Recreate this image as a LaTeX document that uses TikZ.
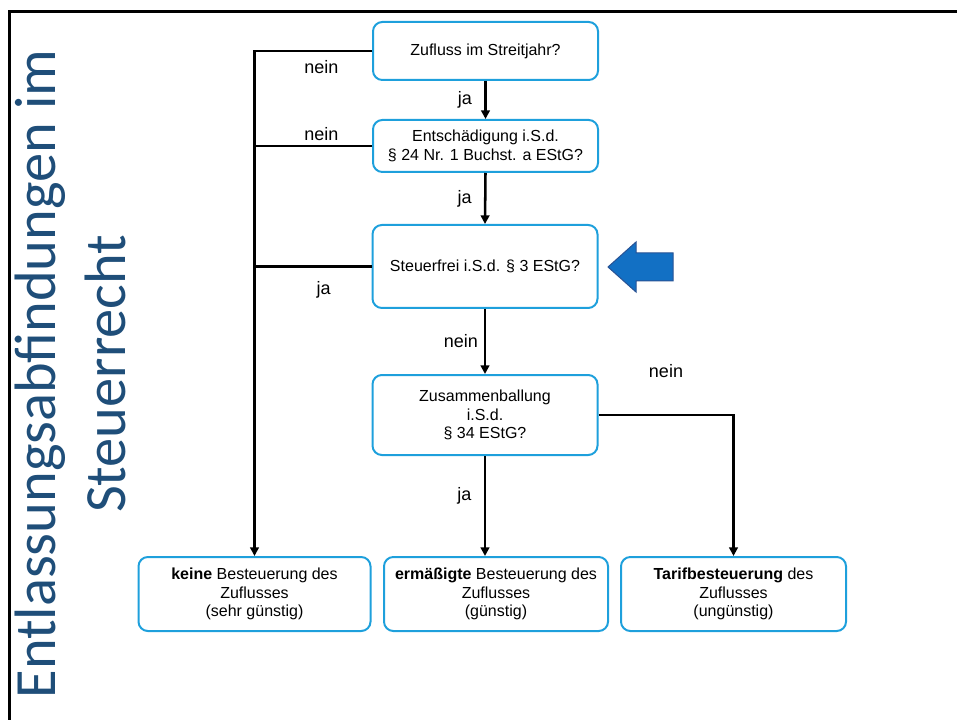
\documentclass[tikz,border=0pt]{standalone}
\usepackage{fontspec}
\setmainfont{Liberation Sans}
\newfontfamily\titlefont{Carlito}
\usetikzlibrary{arrows.meta,positioning}
\definecolor{boxblue}{RGB}{30,160,220}
\definecolor{titleblue}{RGB}{31,78,121}
\definecolor{arrowfill}{RGB}{18,112,196}
\definecolor{arrowline}{RGB}{40,82,148}
\tikzset{
  frage/.style={draw=boxblue, line width=1.5pt, rounded corners=7pt, align=center,
    font=\fontsize{12}{14}\selectfont, minimum width=168.75pt, inner sep=0pt},
  linie/.style={line width=1.9pt},
  pfeil/.style={linie, -{Triangle[width=6.5pt,length=6.5pt]}},
  lbl/.style={font=\fontsize{13.5}{16}\selectfont}
}
\begin{document}
\begin{tikzpicture}[x=0.75pt, y=-0.75pt]
\useasboundingbox (0,0) rectangle (957,720);
\draw[line width=2pt] (9.5,720) -- (9.5,11.5) -- (957,11.5);

\node[font=\titlefont\fontsize{43.8}{53}\selectfont, text=titleblue, rotate=90, align=center] (titel) at (70.5,374) {Entlassungsabfindungen im\\Steuerrecht};

\node[frage, minimum height=43.5pt] (q1) at (485.5,51) {Zufluss im Streitjahr?};
\node[frage, minimum height=39pt] (q2) at (485.5,146) {Entschädigung i.S.d.\\§ 24 Nr. 1 Buchst. a EStG?};
\node[frage, minimum height=62.25pt] (q3) at (485,266.5) {Steuerfrei i.S.d. § 3 EStG?};
\node[frage, minimum height=60pt] (q4) at (485,415) {Zusammenballung\\i.S.d.\\§ 34 EStG?};

\node[frage, minimum height=55.5pt, minimum width=174pt] (rA) at (254.5,594) {\textbf{keine} Besteuerung des\\Zuflusses\\(sehr günstig)};
\node[frage, minimum height=55.5pt, minimum width=168pt] (rB) at (496,594) {\textbf{ermäßigte} Besteuerung des\\Zuflusses\\(günstig)};
\node[frage, minimum height=55.5pt] (rC) at (733.5,594) {\textbf{Tarifbesteuerung} des\\Zuflusses\\(ungünstig)};

% ja-Zweig nach unten
\draw[pfeil] (q1.south) -- node[lbl, left=6pt] {ja} (q2.north);
\draw[pfeil] (q2.south) -- node[lbl, left=6pt] {ja} (q3.north);
\draw[pfeil] (q3.south) -- node[lbl, left=1pt] {nein} (q4.north);
\draw[pfeil] (q4.south) -- node[lbl, pos=0.4, left=6pt] {ja} (q4.south |- rB.north);

% linker Strang
\draw[pfeil] (q1.west) -| node[lbl, pos=0.215, below=3pt] {nein} (rA.north);
\draw[linie] (q2.west) -- node[lbl, pos=0.43, above] {nein} (q2.west -| rA.north);
\draw[linie] (q3.west) -- node[lbl, pos=0.41, below=7pt] {ja} (q3.west -| rA.north);

% rechter Strang
\draw[pfeil] (q4.east) -| node[lbl, pos=0.25, above=24pt] {nein} (rC.north);

% Hinweispfeil
\filldraw[fill=arrowfill, draw=arrowline, line width=0.75pt] (608,267) -- (636,242) -- (636,253) -- (673,253) -- (673,281) -- (636,281) -- (636,292) -- cycle;
\end{tikzpicture}
\end{document}
